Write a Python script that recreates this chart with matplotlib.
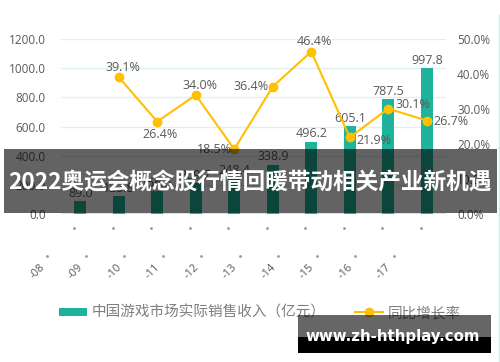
import matplotlib
matplotlib.use("Agg")
import matplotlib.pyplot as plt
from matplotlib.patches import Rectangle
from matplotlib.lines import Line2D

plt.rcParams['font.family'] = ['Open Sans', 'Noto Sans CJK SC', 'DejaVu Sans']

years = ['2008', '2009', '2010', '2011', '2012', '2013', '2014', '2015', '2016', '2017']
tick_labels = ['-08', '-09', '-10', '-11', '-12', '-13', '-14', '-15', '-16', '-17']
revenue = [89.0, 123.8, 156.5, 209.7, 248.4, 338.9, 496.2, 605.1, 787.5, 997.8]
growth_years = years[1:]
growth = [39.1, 26.4, 34.0, 18.5, 36.4, 46.4, 21.9, 30.1, 26.7]
legend_labels = ['中国游戏市场实际销售收入（亿元）', '同比增长率']
banner = '2022奥运会概念股行情回暖带动相关产业新机遇'
watermark = 'www.zh-hthplay.com'

teal = '#1FB39C'
gold = '#FFC000'
txt = '#595959'

fig = plt.figure(figsize=(5.0, 3.62), dpi=100)
ax = fig.add_axes([61/500, 1-214/362, 385/500, 175/362])
x = list(range(len(years)))

ax.set_xlim(-0.5, len(years)-0.5)
ax.set_ylim(0, 1200)
for v in range(200, 1201, 200):
    ax.axhline(v, color='#DDF1F1', lw=1.0, zorder=0)
ax.axhline(0, color='#D9D9D9', lw=1.2, zorder=1)
bars = ax.bar(x, revenue, width=0.32, color=teal, zorder=2, label=legend_labels[0])
for xi, v in zip(x, revenue):
    ax.annotate(f'{v:.1f}', (xi, v), xytext=(0, 5.5), textcoords='offset points',
                ha='center', va='center', fontsize=9, color=txt, zorder=3)

ax.set_yticks(range(0, 1201, 200))
ax.set_yticklabels([f'{v:.1f}' for v in range(0, 1201, 200)], fontsize=8.5, color=txt)
ax.tick_params(axis='y', length=0, pad=11)
ax.set_xticks([])
for s in ax.spines.values():
    s.set_visible(False)

# rotated category labels (shifted like in the reference)
xt = ax.get_xaxis_transform()
for xi, lab in zip(x, tick_labels):
    ax.text(xi - 1.12, -0.326, lab, transform=xt, rotation=45, ha='center', va='center',
            fontsize=8, color=txt, clip_on=False)
    ax.plot([xi - 0.16], [-0.08], marker='o', ms=1.0, color='#999999', transform=xt, clip_on=False)
    ax.plot([xi - 0.86], [-0.24], marker='o', ms=1.0, color='#999999', transform=xt, clip_on=False)

ax2 = ax.twinx()
ax2.set_ylim(0, 50)
gx = [years.index(y) for y in growth_years]
line, = ax2.plot(gx, growth, color=gold, lw=1.5, marker='o', ms=6, zorder=4, label=legend_labels[1])
ax2.set_yticks(range(0, 51, 10))
ax2.set_yticklabels([f'{v:.1f}%' for v in range(0, 51, 10)], fontsize=8.5, color=txt)
ax2.tick_params(axis='y', length=0, pad=8)
for s in ax2.spines.values():
    s.set_visible(False)

# label positions: (dx, dy, ha) in points
pos = {
    '2009': (3, 7, 'center'), '2010': (2, -9, 'center'), '2011': (3, 7, 'center'),
    '2012': (-2, 0, 'right'), '2013': (-3, 0, 'right'), '2014': (2, 7, 'center'),
    '2015': (5, -2, 'left'), '2016': (5, 3, 'left'), '2017': (5, -1, 'left'),
}
for yr, xi, g in zip(growth_years, gx, growth):
    dx, dy, ha = pos[yr]
    ax2.annotate(f'{g:.1f}%', (xi, g), xytext=(dx, dy), textcoords='offset points',
                 ha=ha, va='center', fontsize=9, color=txt, zorder=5)

leg = fig.legend(handles=[bars, line], labels=legend_labels, loc='center left',
                 bbox_to_anchor=(46/500, 1-313/362), ncol=2, frameon=False,
                 prop={'family': ['Noto Sans CJK SC'], 'size': 10.5},
                 handlelength=1.9, handleheight=0.5, handletextpad=0.35, columnspacing=2.0,
                 labelcolor='#7F7F7F')

# right border line
fig.add_artist(Line2D([499/500, 499/500], [0, 1-15/362], color='#CDEBEB', lw=1.0))

# banner overlay
fig.add_artist(Rectangle((4/500, 1-213/362), 493/500, 64/362, transform=fig.transFigure,
                         facecolor='black', alpha=0.61, edgecolor='none', zorder=10))
fig.text(250/500, 1-182/362, banner, ha='center', va='center', color='white',
         fontsize=16.3, fontweight='bold', family=['Noto Sans CJK SC', 'DejaVu Sans'], zorder=11)

# watermark
fig.add_artist(Rectangle((298/500, 1-337/362), 193/500, 22/362, transform=fig.transFigure,
                         facecolor='black', alpha=0.6, edgecolor='none', zorder=10))
fig.add_artist(Rectangle((298/500, 1-353/362), 193/500, 16/362, transform=fig.transFigure,
                         facecolor='black', edgecolor='none', zorder=10))
fig.text(393/500, 1-336/362, watermark, ha='center', va='center', color='white',
         fontsize=10.8, fontweight='bold', family=['DejaVu Sans'], zorder=11)

fig.savefig('out.png', dpi=100)
